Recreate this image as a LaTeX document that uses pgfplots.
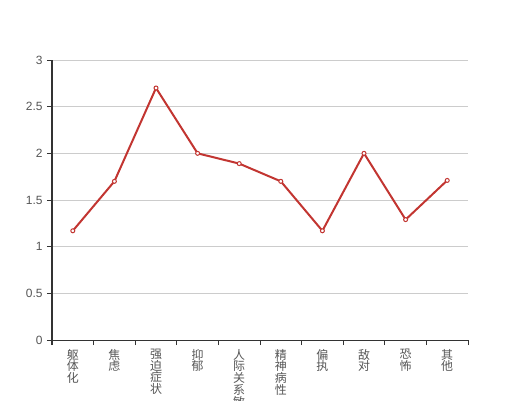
\documentclass[border=0pt]{standalone}
\usepackage{pgfplots}
\pgfplotsset{compat=1.18}
\usepackage{fontspec}
\setmainfont{Liberation Sans}
\newfontfamily\cjk{Noto Sans CJK SC}
\definecolor{lc}{HTML}{C23531}
\definecolor{axc}{HTML}{333333}
\definecolor{txc}{HTML}{555555}
\definecolor{grc}{HTML}{CCCCCC}
\begin{document}
\begin{tikzpicture}[x=1bp,y=1bp]
\begin{axis}[
  at={(0,0)}, anchor=south west,
  scale only axis, width=416bp, height=280bp,
  xmin=-0.5, xmax=9.5, ymin=0, ymax=3,
  ytick={0,0.5,1,1.5,2,2.5,3},
  yticklabels={0,0.5,1,1.5,2,2.5,3},
  xtick={0,1,2,3,4,5,6,7,8,9},
  xticklabels={{躯\\体\\化},{焦\\虑},{强\\迫\\症\\状},{抑\\郁},{人\\际\\关\\系\\敏\\感},{精\\神\\病\\性},{偏\\执},{敌\\对},{恐\\怖},{其\\他}},
  minor xtick={-0.5,0.5,...,9.5},
  major x tick style={draw=none},
  minor x tick style={draw=axc, line width=1bp},
  minor tick length=5bp,
  y tick style={draw=axc, line width=1bp},
  major tick length=5bp,
  tick align=outside,
  xtick pos=bottom, ytick pos=left,
  axis x line*=bottom, axis y line*=left,
  axis line style={draw=axc, line width=1bp, -},
  ymajorgrids, grid style={draw=grc, line width=0.8bp},
  xticklabel style={font=\cjk\fontsize{12}{11.8}\selectfont, text=txc, align=center, anchor=north, yshift=-0.5bp},
  yticklabel style={font=\fontsize{12}{12}\selectfont, text=txc, xshift=-1bp},
  /pgf/number format/assume math mode=true,
  clip=false,
]
\addplot[draw=lc, line width=2bp, mark=*, mark size=2bp, mark options={fill=white, draw=lc, line width=1bp}]
  coordinates {(0,1.17) (1,1.70) (2,2.70) (3,2.00) (4,1.89) (5,1.70) (6,1.17) (7,2.00) (8,1.29) (9,1.71)};
\end{axis}
\pgfresetboundingbox
\path[use as bounding box] (-52,-60) rectangle (468,340);
\end{tikzpicture}
\end{document}
